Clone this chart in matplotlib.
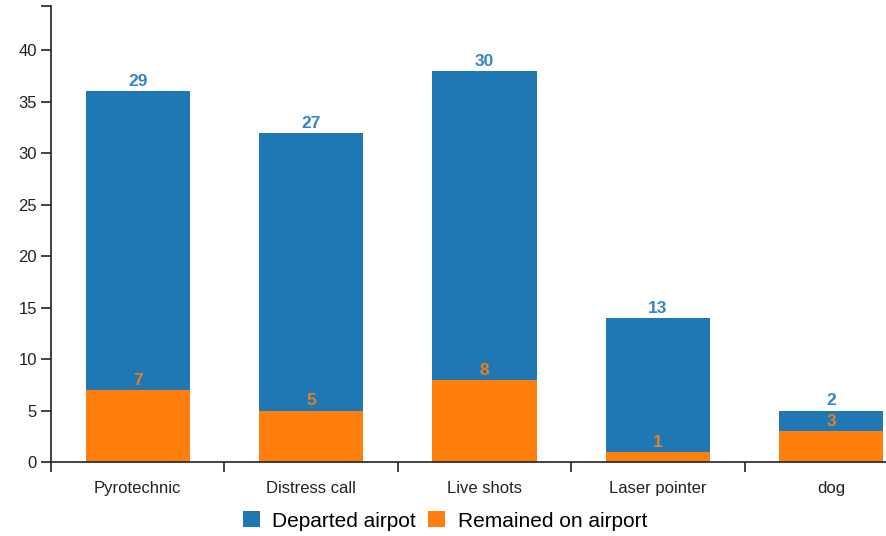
import matplotlib.pyplot as plt
import numpy as np

plt.rcParams['font.family'] = ['Liberation Sans', 'DejaVu Sans']

# Données
categories = ['Pyrotechnic', 'Distress call', 'Live shots', 'Laser pointer', 'dog']
remained = [7, 5, 8, 1, 3]
departed = [29, 27, 30, 13, 2]
series_names = ['Departed airpot', 'Remained on airport']

blue = '#1f77b4'
orange = '#ff7f0e'

fig = plt.figure(figsize=(8.87, 5.36), dpi=100)
# l'axe x déborde à droite de l'image, comme dans l'original
ax = fig.add_axes([51 / 887, 74 / 536, 867 / 887, 456 / 536])

x = np.arange(len(categories))
bars_r = ax.bar(x, remained, width=0.6, color=orange, label=series_names[1])
bars_d = ax.bar(x, departed, width=0.6, bottom=remained, color=blue, label=series_names[0])

# étiquettes des valeurs au-dessus de chaque segment
for i in range(len(categories)):
    ax.annotate(str(remained[i]), (x[i], remained[i]), xytext=(0, 1.5), textcoords='offset points',
                ha='center', va='bottom', color='#e8801a', fontsize=12.5, fontweight='bold')
    ax.annotate(str(departed[i]), (x[i], remained[i] + departed[i]), xytext=(0, 1.5),
                textcoords='offset points', ha='center', va='bottom', color='#3485c5',
                fontsize=12.5, fontweight='bold')

ymax = 44.3
ax.set_ylim(0, ymax)
ax.set_xlim(-0.5, len(categories) - 0.5)

ax.set_yticks(list(range(0, 45, 5)) + [ymax])
ax.set_yticklabels([str(v) for v in range(0, 45, 5)] + [''])
ax.set_xticks(np.arange(-0.5, len(categories), 1.0))
ax.set_xticklabels([])
ax.set_xticks(x, minor=True)
ax.set_xticklabels(categories, minor=True)
ax.tick_params(axis='x', which='minor', length=0, pad=14, labelsize=12, colors='#222222')
ax.tick_params(axis='x', which='major', length=7, width=1.2, color='#222222')
ax.tick_params(axis='y', length=7, width=1.2, color='#222222', labelsize=12,
               labelcolor='#222222', pad=3)

for s in ['top', 'right']:
    ax.spines[s].set_visible(False)
for s in ['left', 'bottom']:
    ax.spines[s].set_linewidth(1.2)
    ax.spines[s].set_color('#222222')

fig.legend(handles=[bars_d, bars_r], labels=series_names, loc='center',
           bbox_to_anchor=(445 / 887, 1 - 521 / 536), ncol=2, frameon=False,
           fontsize=15, handlelength=0.8, handleheight=0.8, handletextpad=0.6,
           columnspacing=0.6)

fig.savefig('out.png', dpi=100)
